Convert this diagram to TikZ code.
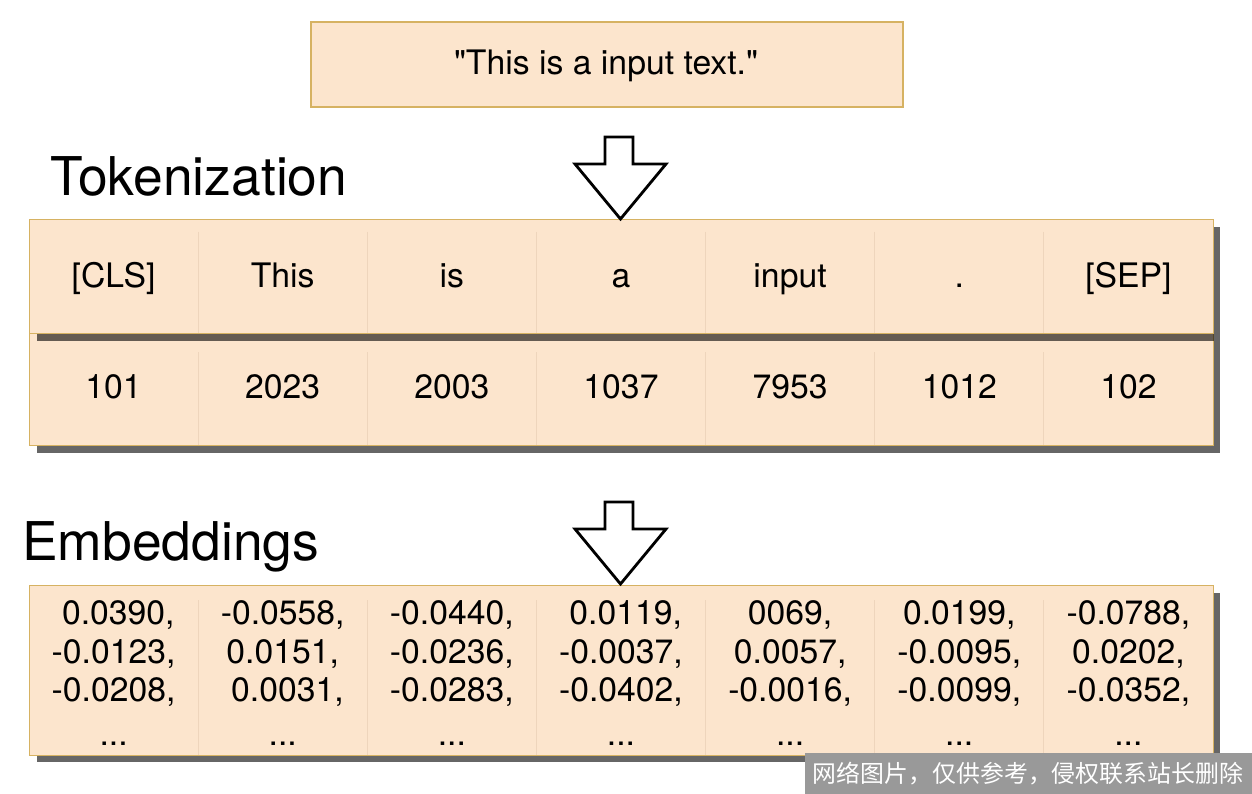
\documentclass[tikz,border=0pt]{standalone}
\usepackage{fontspec}
\setmainfont{TeX Gyre Heros}
\newfontfamily\cjk{Noto Sans CJK SC}
\usetikzlibrary{positioning, shadows}

\definecolor{relleno}{RGB}{252,229,205}
\definecolor{borde}{RGB}{214,178,98}
\definecolor{separador}{RGB}{238,213,188}
\definecolor{marca}{RGB}{153,153,153}

\tikzset{
  texto/.style={font=\fontsize{19.2}{23}\selectfont, inner sep=0pt},
  titulo/.style={font=\fontsize{30.4}{36}\selectfont, inner sep=0pt, anchor=base west},
  fila/.style={draw=borde, fill=relleno, line width=0.6pt, inner sep=0pt,
    anchor=north west, minimum width=23.68cm,
    drop shadow={shadow xshift=0.14cm, shadow yshift=-0.14cm, opacity=0.6, fill=black}},
  flecha/.style={draw=black, fill=white, line width=1.6pt, line join=miter},
  sep/.style={draw=separador, line width=0.6pt}
}

\begin{document}
\begin{tikzpicture}[x=0.02cm, y=-0.02cm]
    % Fondo
    \fill[white] (0,0) rectangle (1252,794);
    \useasboundingbox (0,0) rectangle (1252,794);

    % Texto de entrada
    \node[texto, draw=borde, fill=relleno, line width=1.2pt,
      minimum width=11.84cm, minimum height=1.7cm] (entrada) at (607,64.5) {};
    \node[texto, anchor=base] (frase) at (606,75) {\textquotedbl This is a input text.\textquotedbl};

    % Titulos
    \node[titulo] (tokenizacion) at (50,195) {Tokenization};
    \node[titulo] (embeddings) at (22,560) {Embeddings};

    % Filas de la tabla de tokens (la de abajo primero)
    \node[fila, minimum height=2.24cm] (filaId) at (29,333) {};
    \node[fila, minimum height=2.28cm] (filaTok) at (29,219) {};
    \node[fila, minimum height=3.4cm] (filaEmb) at (29,585) {};

    % Separadores de celdas
    \foreach \k in {1,...,6} {
        \pgfmathsetmacro{\sx}{29+169.14*\k}
        \draw[sep] (\sx,232) -- (\sx,333);
        \draw[sep] (\sx,352) -- (\sx,445);
        \draw[sep] (\sx,600) -- (\sx,755);
    }

    % Tokens e identificadores
    \foreach \t/\n [count=\i] in {[CLS]/101, This/2023, is/2003, a/1037, input/7953, ./1012, [SEP]/102} {
        \pgfmathsetmacro{\cx}{29+169.14*(\i-0.5)}
        \node[texto, anchor=base] (tok\i) at (\cx,287) {\t};
        \node[texto, anchor=base] (id\i) at (\cx,398) {\n};
    }

    % Vectores de embeddings
    \foreach \a/\b/\c [count=\i] in {
        \hspace*{.28em}0.0390/-0.0123/-0.0208,
        -0.0558/0.0151/\hspace*{.28em}0.0031,
        -0.0440/-0.0236/-0.0283,
        \hspace*{.28em}0.0119/-0.0037/-0.0402,
        0069/0.0057/-0.0016,
        0.0199/-0.0095/-0.0099,
        -0.0788/0.0202/-0.0352} {
        \pgfmathsetmacro{\cx}{29+169.14*(\i-0.5)}
        \node[texto, anchor=base] (emb\i-1) at (\cx,624.5) {\a,};
        \node[texto, anchor=base] (emb\i-2) at (\cx,663) {\b,};
        \node[texto, anchor=base] (emb\i-3) at (\cx,701.5) {\c,};
        \node[texto, anchor=base] (emb\i-4) at (\cx,745) {...};
    }

    % Flechas de bloque
    \foreach \dy in {0,365} {
        \draw[flecha, shift={(0,\dy)}] (605,137) -- (633,137) -- (633,164) -- (666,164)
          -- (620.5,219) -- (575,164) -- (605,164) -- cycle;
    }

    % Marca de agua
    \fill[marca] (805,753) rectangle (1252,794);
    \node[inner sep=0pt, text=white, font=\cjk\fontsize{13.6}{16}\selectfont]
      (aviso) at (1028,773.5) {网络图片，仅供参考，侵权联系站长删除};
\end{tikzpicture}
\end{document}
